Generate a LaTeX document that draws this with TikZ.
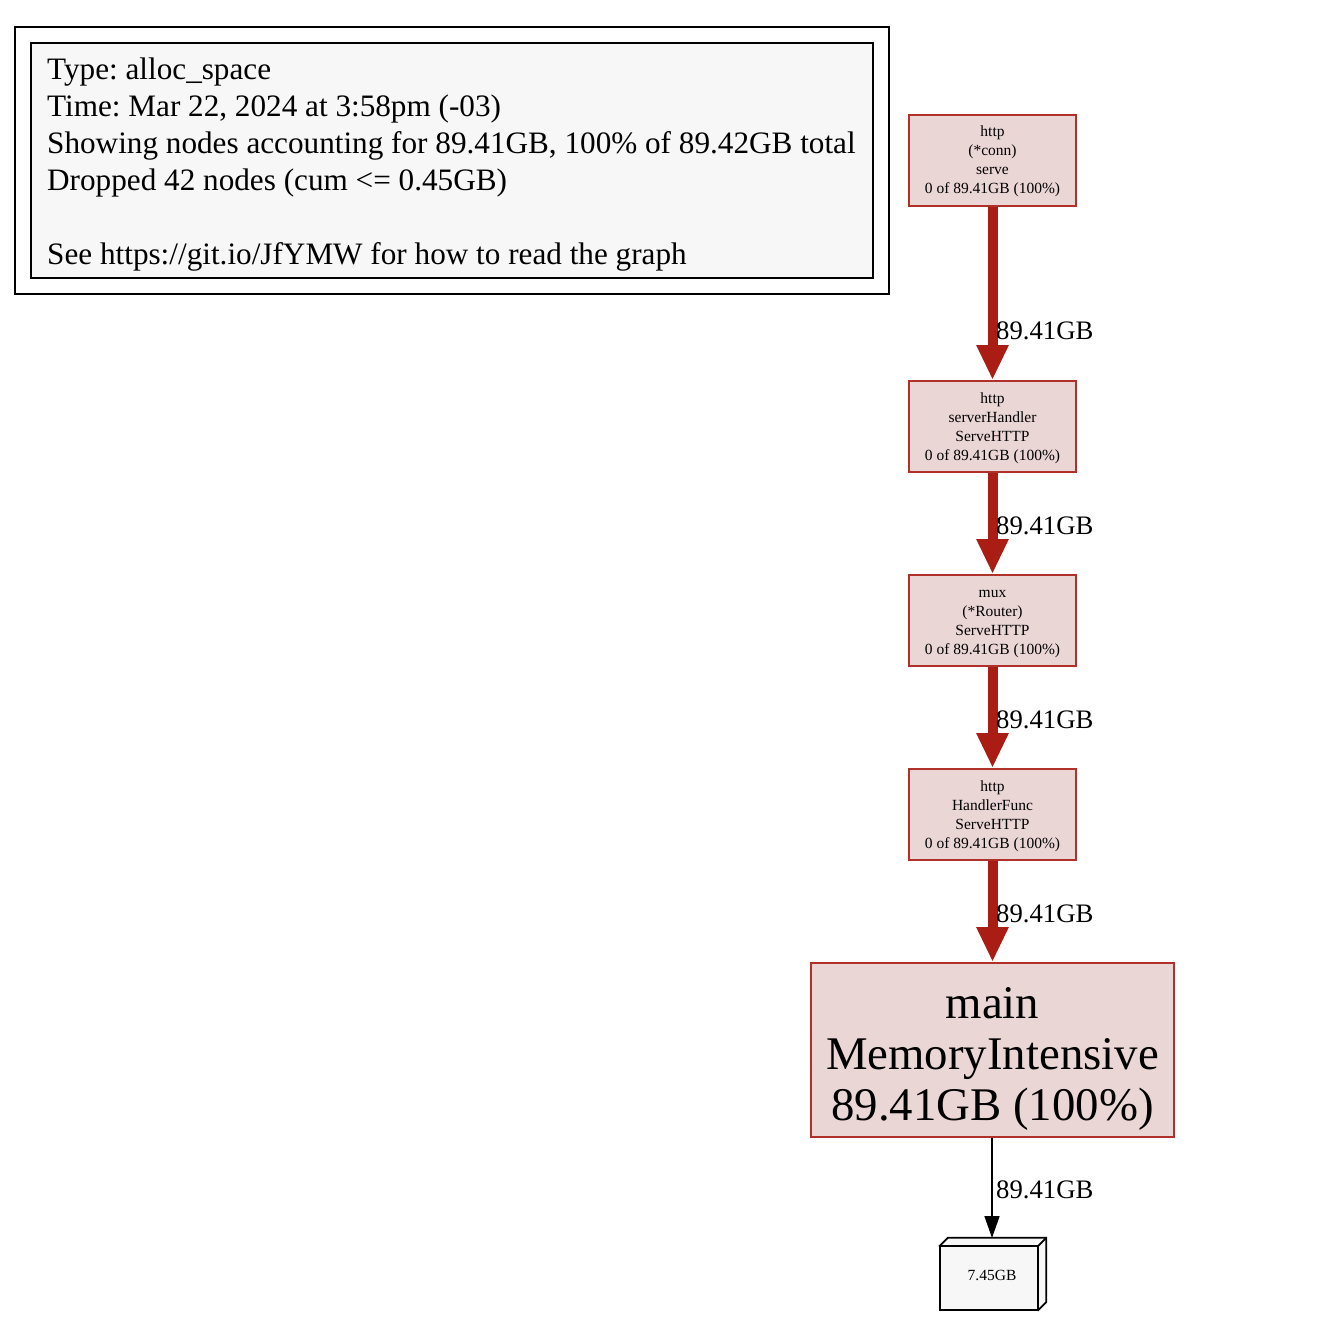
\documentclass[tikz,border=0pt]{standalone}
\usepackage{fontspec}
\setmainfont{Liberation Serif}
\usetikzlibrary{arrows.meta}
\frenchspacing
\definecolor{hotfill}{HTML}{EBD6D6}
\definecolor{hotdraw}{HTML}{B0302A}
\definecolor{hotedge}{HTML}{A91D14}
\definecolor{legfill}{HTML}{F7F7F7}
\definecolor{boxfill}{HTML}{F7F7F7}
\tikzset{
  fnode/.style={draw=hotdraw, line width=2pt, fill=hotfill, inner sep=0pt,
    minimum width=167pt, minimum height=91pt, align=center,
    text height=67pt, text depth=0pt,
    font=\fontsize{15.5}{19}\selectfont},
  bignode/.style={draw=hotdraw, line width=2pt, fill=hotfill, inner sep=0pt,
    minimum width=363pt, minimum height=174pt, align=center,
    text height=140pt, text depth=0pt,
    font=\fontsize{46.8}{51}\selectfont},
  hotarrow/.style={draw=hotedge, line width=10pt,
    -{Triangle[length=35pt,width=30pt]}, fill=hotedge},
  thinarrow/.style={draw=black, line width=1.6pt,
    -{Triangle[length=22pt,width=15pt]}},
  elabel/.style={anchor=base west, inner sep=0pt,
    font=\fontsize{26.7}{30}\selectfont}
}
\begin{document}
\begin{tikzpicture}[x=1pt,y=-1pt]
\useasboundingbox (0,0) rectangle (1322,1340);
% legend
\node[draw=black, line width=2pt, minimum width=874pt, minimum height=267pt, inner sep=0pt] (legout) at (452,160.5) {};
\node[draw=black, line width=1.6pt, fill=legfill, minimum width=842pt, minimum height=235pt, inner sep=0pt] (legin) at (452,160.5) {};
\node[anchor=base west, inner sep=0pt, align=left, font=\fontsize{31.2}{37}\selectfont] (legtext) at (47,265)
 {Type: alloc\_space\\
  Time: Mar 22, 2024 at 3:58pm (-03)\\
  Showing nodes accounting for 89.41GB, 100\% of 89.42GB total\\
  Dropped 42 nodes (cum <= 0.45GB)\\[37pt]
  See https://git.io/JfYMW for how to read the graph};
% nodes
\node[fnode] (n1) at (992.5,160.5) {http\\(*conn)\\serve\\0 of 89.41GB (100\%)};
\node[fnode] (n2) at (992.5,426.5) {http\\serverHandler\\ServeHTTP\\0 of 89.41GB (100\%)};
\node[fnode] (n3) at (992.5,620.5) {mux\\(*Router)\\ServeHTTP\\0 of 89.41GB (100\%)};
\node[fnode] (n4) at (992.5,814.5) {http\\HandlerFunc\\ServeHTTP\\0 of 89.41GB (100\%)};
\node[bignode] (n5) at (992.5,1050) {main\\MemoryIntensive\\89.41GB (100\%)};
% box3d
\node[inner sep=0pt, minimum width=106pt, minimum height=72pt] (b) at (993,1274) {};
\draw[line width=1.8pt, fill=boxfill, line join=miter]
  ([yshift=-8pt]b.north west) -- ([xshift=8pt]b.north west) -- (b.north east)
  -- ([yshift=8pt]b.south east) -- ([xshift=-8pt]b.south east) -- cycle;
\draw[line width=1.8pt, fill=boxfill]
  ([yshift=-8pt]b.north west) rectangle ([xshift=-8pt]b.south east);
\draw[line width=1.8pt]
  ([xshift=-8pt,yshift=-8pt]b.north east) -- (b.north east);
\node[font=\fontsize{15.5}{18}\selectfont, inner sep=0pt] (btext) at (992,1275) {7.45GB};
% edges
\draw[hotarrow] (n1) -- (n2);
\draw[hotarrow] (n2) -- (n3);
\draw[hotarrow] (n3) -- (n4);
\draw[hotarrow] (n4) -- (n5);
\coordinate (btop) at (992,1238);
\draw[thinarrow] (n5.south -| btop) -- (btop);
% edge labels
\node[elabel] (l1) at (996,339) {89.41GB};
\node[elabel] (l2) at (996,534) {89.41GB};
\node[elabel] (l3) at (996,728) {89.41GB};
\node[elabel] (l4) at (996,922) {89.41GB};
\node[elabel] (l5) at (996,1198) {89.41GB};
\end{tikzpicture}
\end{document}
